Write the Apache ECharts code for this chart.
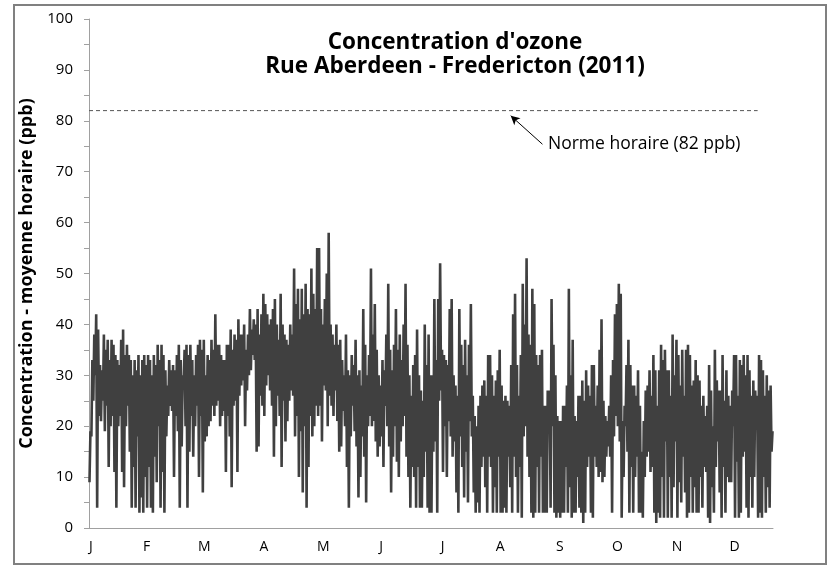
<!DOCTYPE html>
<html>
<head>
<meta charset="utf-8">
<script src="https://cdn.jsdelivr.net/npm/echarts@6/dist/echarts.min.js"></script>
<style>html,body{margin:0;padding:0;background:#fff}#c{width:833px;height:568px}</style>
</head>
<body>
<div id="c"></div>
<script>
// Month tick labels and their positions (day of year) on the x axis
const monthLabels = ['J','F','M','A','M','J','J','A','S','O','N','D'];
const monthPos = [1, 30, 60, 91, 122, 152, 184, 214, 245, 275, 306, 336];

// Daily maximum of hourly ozone (ppb), days 0..355
const dailyMax = [
 19,33,38,42,39,32,31,38,35,37,33,37,36,34,33,32,37,39,34,36,34,33,30,33,31,34,30,33,34,32,
 34,33,30,34,32,36,33,36,34,31,28,33,31,32,31,34,36,33,30,35,36,34,36,33,30,34,36,37,35,
 37,30,34,33,37,35,42,36,36,34,33,33,36,36,39,35,38,37,41,38,38,40,35,38,43,39,41,40,43,38,
 42,46,44,42,40,41,43,45,40,37,46,40,38,37,36,40,38,51,44,47,41,47,42,48,43,42,51,46,43,55,
 55,43,40,45,50,58,40,38,36,40,36,37,33,30,38,31,30,34,32,37,30,31,28,43,36,30,34,51,38,44,
 35,30,28,33,31,38,48,35,31,36,43,35,38,33,40,48,36,30,26,32,34,39,30,27,25,40,32,38,30,
 30,45,33,45,52,35,34,33,32,43,45,30,28,26,43,36,32,37,30,36,44,26,22,20,24,26,28,29,26,34,
 34,30,26,29,31,35,28,25,26,25,24,32,42,46,32,26,34,48,40,53,38,36,47,44,34,32,34,35,24,
 24,27,27,45,36,30,22,21,21,24,24,28,47,30,37,22,21,26,26,29,25,31,28,26,32,32,24,28,35,41,
 25,22,21,24,30,33,42,44,48,46,21,24,32,37,32,28,28,26,31,24,15,21,27,28,31,26,34,31,24,31,
 36,33,35,31,31,26,38,30,37,34,28,35,26,35,36,34,28,29,33,30,29,24,26,22,24,32,27,20,35,29,
 27,27,34,25,31,26,24,27,34,34,26,33,32,34,30,34,31,26,29,27,26,34,33,31,26,30,27,28,19
];
// Daily minimum of hourly ozone (ppb), days 0..355
const dailyMin = [
 9,18,25,30,4,22,21,25,19,24,12,20,22,11,4,20,22,11,8,20,24,15,4,12,4,18,3,6,3,10,
 4,12,4,3,14,9,20,4,11,3,18,22,24,23,10,22,19,4,16,28,20,4,15,22,14,20,24,10,22,
 7,17,18,20,21,24,22,24,25,20,22,23,11,22,18,8,24,25,11,26,28,29,20,27,30,31,34,33,15,16,
 26,24,22,28,30,27,24,14,20,26,22,12,25,17,21,25,27,26,18,22,10,19,7,20,4,12,22,18,20,24,
 22,24,17,28,27,20,26,24,22,27,21,15,16,23,20,12,4,18,24,19,16,6,10,18,14,5,20,22,20,21,
 17,14,16,18,12,24,20,16,7,14,20,13,10,17,20,22,14,10,4,12,10,4,12,4,4,10,15,4,3,
 3,15,17,3,25,27,11,20,10,21,18,14,17,7,3,18,12,6,15,5,21,18,7,3,5,3,12,14,8,3,
 14,12,3,8,3,14,3,3,4,3,14,8,3,14,10,3,12,2,18,20,14,10,3,2,3,12,3,14,3,
 3,3,20,4,20,3,2,3,2,3,3,12,3,8,2,3,3,10,4,3,1,3,12,14,3,2,14,12,10,11,
 9,10,14,16,14,3,18,22,20,17,2,10,20,15,3,12,3,10,14,3,3,2,10,14,15,11,12,3,1,3,
 2,10,2,17,2,10,2,8,17,2,9,5,14,7,2,3,10,3,8,3,3,10,4,12,11,2,1,8,3,12,
 17,7,2,12,3,10,9,9,20,2,13,2,3,14,15,4,2,10,4,10,20,2,3,2,10,3,8,4,15
];
// Hourly standard (ppb) and the span of the dashed reference line (days)
const normValue = 82;
const normSpan = [0, 348];
// Annotation arrow: from [day, ppb] to [day, ppb]
const arrowFrom = [236, 75.4];
const arrowTo = [219.5, 81.0];

const FONT = '"Open Sans", Lato, sans-serif';

const seriesData = [];
for (let d = 0; d < dailyMax.length; d++) {
  seriesData.push([d + 0.25, dailyMin[d]]);
  seriesData.push([d + 0.75, dailyMax[d]]);
}

const chart = echarts.init(document.getElementById('c'), null, {renderer: 'canvas'});
chart.setOption({
  animation: false,
  backgroundColor: '#fff',
  grid: {left: 89, right: 60, top: 19, bottom: 40},
  title: {
    text: "Concentration d'ozone\nRue Aberdeen - Fredericton (2011)",
    left: 450, top: 26, textAlign: 'center',
    textStyle: {fontFamily: FONT, fontSize: 22.5, fontWeight: 'bold', color: '#000', lineHeight: 24}
  },
  xAxis: {
    type: 'value', min: 0, max: 356,
    axisLine: {lineStyle: {color: '#a0a0a0', width: 1}},
    axisTick: {show: false},
    splitLine: {show: false},
    axisLabel: {
      customValues: monthPos,
      formatter: v => monthLabels[monthPos.indexOf(v)] || '',
      fontFamily: FONT, fontSize: 14, color: '#000', margin: 12
    }
  },
  yAxis: {
    type: 'value', min: 0, max: 100, interval: 5,
    name: 'Concentration - moyenne horaire (ppb)',
    nameLocation: 'middle', nameGap: 47, nameRotate: 90,
    nameTextStyle: {fontFamily: FONT, fontSize: 18, fontWeight: 'bold', color: '#000'},
    axisLine: {show: true, lineStyle: {color: '#a0a0a0', width: 1}},
    axisTick: {show: true, length: 5, lineStyle: {color: '#a0a0a0'}},
    splitLine: {show: false},
    axisLabel: {
      formatter: v => (v % 10 === 0 ? String(v) : ''),
      fontFamily: FONT, fontSize: 15, color: '#000', margin: 16
    }
  },
  series: [
    {
      type: 'line', data: seriesData, symbol: 'none',
      lineStyle: {color: '#404040', width: 2.6}, z: 3
    },
    {
      type: 'line', data: normSpan.map(x => [x, normValue]), symbol: 'none',
      lineStyle: {color: '#555', width: 1, type: [4, 3]},
      markLine: {
        silent: true, symbol: ['none', 'arrow'], symbolSize: [7, 9],
        label: {show: false},
        lineStyle: {color: '#000', width: 1, type: 'solid'},
        data: [[{coord: arrowFrom}, {coord: arrowTo}]]
      }
    }
  ],
  graphic: [
    {type: 'rect', shape: {x: 14, y: 5, width: 812, height: 559},
     style: {fill: 'none', stroke: '#808080', lineWidth: 2}, silent: true},
    {type: 'text', left: 548, top: 135,
     style: {text: 'Norme horaire (82 ppb)', font: '17.5px ' + FONT, fill: '#000'}}
  ]
});
</script>
</body>
</html>
